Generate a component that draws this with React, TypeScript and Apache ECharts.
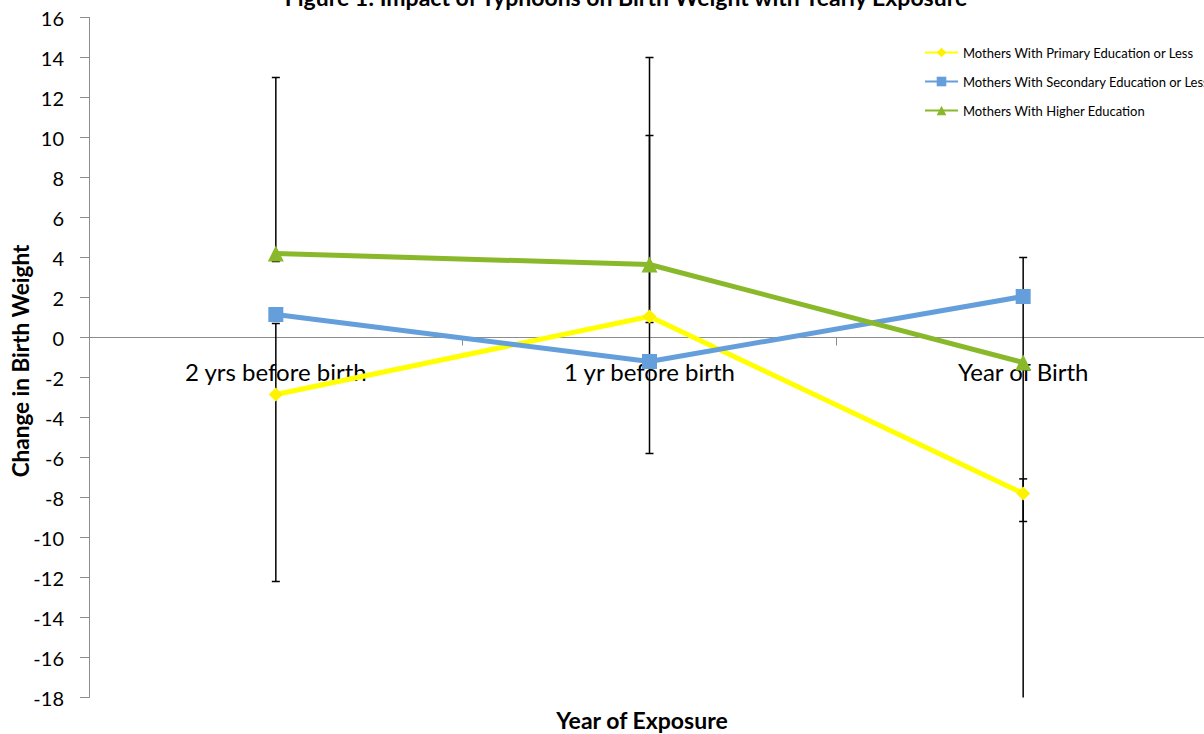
import React, { useEffect, useRef } from "react";
import * as echarts from "echarts";

const categories = ["2 yrs before birth", "1 yr before birth", "Year of Birth"];
const seriesNames = [
  "Mothers With Primary Education or Less",
  "Mothers With Secondary Education or Less",
  "Mothers With Higher Education",
];
const primary = [-2.85, 1.05, -7.8];
const secondary = [1.15, -1.2, 2.05];
const higher = [4.2, 3.65, -1.25];

// error bar segments: category index, low, high
const errCat = [0, 0, 1, 1, 2, 2];
const errLow = [3.8, -12.2, -5.8, 0.75, -9.2, -20];
const errHigh = [13.0, 0.7, 14.0, 10.1, 4.0, -7.07];

const yMin = -18;
const yMax = 16;
const yStep = 2;

const FONT = "Lato, 'Open Sans', sans-serif";

export default function App() {
  const ref = useRef<HTMLDivElement>(null);
  useEffect(() => {
    if (!ref.current) return;
    const chart = echarts.init(ref.current, undefined, { renderer: "svg" });
    const errData = errCat.map((c, i) => [c, errLow[i], errHigh[i]]);
    const gridTop = 17.5;
    const gridBottom = 36.5;
    const plotH = 734 - gridTop - gridBottom;
    const zeroOffset = (plotH * (0 - yMin)) / (yMax - yMin);
    const option: any = {
      animation: false,
      backgroundColor: "#ffffff",
      textStyle: { fontFamily: FONT },
      grid: {
        left: 89,
        right: -6,
        top: gridTop,
        bottom: gridBottom,
        containLabel: false,
        outerBoundsMode: "none",
      },
      legend: {
        orient: "vertical",
        left: 919,
        top: 41,
        itemWidth: 33,
        itemHeight: 12,
        itemGap: 16,
        textStyle: { fontFamily: FONT, fontSize: 13, color: "#000", lineHeight: 12 },
        data: seriesNames,
      },
      xAxis: {
        type: "category",
        data: categories,
        boundaryGap: true,
        offset: -zeroOffset,
        axisLine: { onZero: false, lineStyle: { color: "#8c8c8c", width: 1 } },
        axisTick: { show: true, length: 8, lineStyle: { color: "#8c8c8c" } },
        axisLabel: { fontFamily: FONT, fontSize: 24, color: "#000", margin: 22 },
        splitLine: { show: false },
      },
      yAxis: {
        type: "value",
        min: yMin,
        max: yMax,
        interval: yStep,
        axisLine: { show: true, lineStyle: { color: "#8c8c8c", width: 1 } },
        axisTick: { show: true, length: 9, lineStyle: { color: "#8c8c8c" } },
        axisLabel: { fontFamily: FONT, fontSize: 20, color: "#000", margin: 25 },
        splitLine: { show: false },
      },
      graphic: [
        {
          type: "text",
          x: 626,
          y: -15,
          style: {
            text: "Figure 1: Impact of Typhoons on Birth Weight with Yearly Exposure",
            font: `bold 23px ${FONT}`,
            fill: "#000",
            textAlign: "center",
            textVerticalAlign: "top",
          },
        },
        {
          type: "text",
          x: 642,
          y: 720,
          style: {
            text: "Year of Exposure",
            font: `bold 23px ${FONT}`,
            fill: "#000",
            textAlign: "center",
            textVerticalAlign: "middle",
          },
        },
        {
          type: "text",
          x: 20,
          y: 361,
          rotation: Math.PI / 2,
          style: {
            text: "Change in Birth Weight",
            font: `bold 22.5px ${FONT}`,
            fill: "#000",
            textAlign: "center",
            textVerticalAlign: "middle",
          },
        },
      ],
      series: [
        {
          type: "custom",
          name: "errors",
          clip: true,
          z: 1,
          data: errData,
          renderItem: (params: any, api: any) => {
            const c = api.value(0);
            const lo = api.coord([c, api.value(1)]);
            const hi = api.coord([c, api.value(2)]);
            const h = 4;
            const st = { stroke: "#000", lineWidth: 1.5 };
            return {
              type: "group",
              children: [
                { type: "line", shape: { x1: lo[0], y1: lo[1], x2: hi[0], y2: hi[1] }, style: st },
                { type: "line", shape: { x1: lo[0] - h, y1: lo[1], x2: lo[0] + h, y2: lo[1] }, style: st },
                { type: "line", shape: { x1: hi[0] - h, y1: hi[1], x2: hi[0] + h, y2: hi[1] }, style: st },
              ],
            };
          },
        },
        {
          type: "line",
          name: seriesNames[0],
          data: primary,
          z: 3,
          symbol: "diamond",
          symbolSize: 14,
          lineStyle: { color: "#FFFF00", width: 5 },
          itemStyle: { color: "#FFF200" },
        },
        {
          type: "line",
          name: seriesNames[1],
          data: secondary,
          z: 3,
          symbol: "rect",
          symbolSize: 15,
          lineStyle: { color: "#659FDB", width: 5 },
          itemStyle: { color: "#659FDB" },
        },
        {
          type: "line",
          name: seriesNames[2],
          data: higher,
          z: 3,
          symbol: "triangle",
          symbolSize: 16,
          lineStyle: { color: "#8AB82B", width: 5 },
          itemStyle: { color: "#8AB82B" },
        },
      ],
    };
    chart.setOption(option);
    return () => chart.dispose();
  }, []);
  return (
    <div
      ref={ref}
      style={{ position: "fixed", left: 0, top: 0, width: 1204, height: 734, overflow: "hidden" }}
    />
  );
}
